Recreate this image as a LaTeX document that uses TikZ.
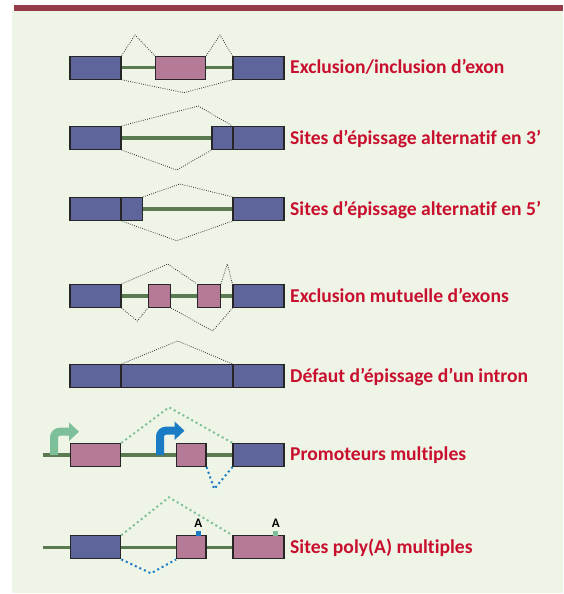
\documentclass[tikz,border=0pt]{standalone}
\usepackage{fontspec}
\setmainfont[Ligatures=NoCommon]{Carlito}
\usetikzlibrary{arrows.meta}
\definecolor{exonblue}{HTML}{5E659B}
\definecolor{exonpink}{HTML}{B57A96}
\definecolor{introngreen}{HTML}{5A7A50}
\definecolor{panelbg}{HTML}{EEF4E6}
\definecolor{topbar}{HTML}{943A48}
\definecolor{titlered}{HTML}{C8102E}
\definecolor{lightgreen}{HTML}{7DBF98}
\definecolor{promoblue}{HTML}{1A7CC4}
\begin{document}
\begin{tikzpicture} [x=1pt, y=-1pt,
  exon/.style={draw=black!85, line width=1.2pt, minimum height=23pt, inner sep=0pt},
  blue/.style={exon, fill=exonblue},
  pink/.style={exon, fill=exonpink},
  intron/.style={draw=introngreen, line width=3.2pt},
  splice/.style={draw=black!80, line width=0.8pt, dash pattern=on 0.8pt off 1.4pt},
  gsplice/.style={draw=lightgreen, line width=2pt, dash pattern=on 2pt off 3pt},
  bsplice/.style={draw=promoblue, line width=2pt, dash pattern=on 2pt off 3pt},
  title/.style={anchor=base west, inner sep=0pt, text=titlered, font=\bfseries\fontsize{19.6}{19.6}\selectfont},
  promoter/.style={line width=8pt, rounded corners=6pt, -{Triangle[width=18pt,length=10pt]}},
  polya/.style={font=\bfseries\fontsize{13}{13}\selectfont, inner sep=0pt}]
\useasboundingbox (0,0) rectangle (563,594);
\fill[panelbg] (12,11) rectangle (563,593);
\fill[topbar] (14,5) rectangle (563,11);

% exon/inclusion
\node[blue, minimum width=51pt] (a1) at (95.5,67.7) {};
\node[pink, minimum width=50.4pt] (a2) at (180.5,67.7) {};
\node[blue, minimum width=51pt] (a3) at (258.5,67.7) {};
\draw[intron] (a1.east) -- (a2.west);
\draw[intron] (a2.east) -- (a3.west);
\coordinate (a4) at (135,35);
\coordinate (a5) at (220,35);
\coordinate (a6) at (184,92.7);
\draw[splice] (a1.north east) -- (a4) -- (a2.north west);
\draw[splice] (a2.north east) -- (a5) -- (a3.north west);
\draw[splice] (a1.south east) -- (a6) -- (a3.south west);
\node[title] (ta) at (290,73.7) {Exclusion/inclusion d’exon};

% 3' site
\node[blue, minimum width=51pt] (b1) at (95.5,138) {};
\node[blue, minimum width=21.3pt] (b2) at (222.6,138) {};
\node[blue, minimum width=51pt] (b3) at (258.5,138) {};
\draw[intron] (b1.east) -- (b2.west);
\coordinate (b4) at (198.3,106);
\coordinate (b5) at (176.7,170);
\draw[splice] (b1.north east) -- (b4) -- (b3.north west);
\draw[splice] (b1.south east) -- (b5) -- (b2.south west);
\node[title] (tb) at (290,144) {Sites d’épissage alternatif en 3’};

% 5' site
\node[blue, minimum width=51pt] (c1) at (95.5,209) {};
\node[blue, minimum width=21.3pt] (c2) at (131.6,209) {};
\node[blue, minimum width=51pt] (c3) at (258.5,209) {};
\draw[intron] (c2.east) -- (c3.west);
\coordinate (c4) at (180,184);
\coordinate (c5) at (176.7,240.7);
\draw[splice] (c2.north east) -- (c4) -- (c3.north west);
\draw[splice] (c1.south east) -- (c5) -- (c3.south west);
\node[title] (tc) at (290,215) {Sites d’épissage alternatif en 5’};

% mutually exclusive
\node[blue, minimum width=51pt] (d1) at (95.5,296) {};
\node[pink, minimum width=22.4pt] (d2) at (159.5,296) {};
\node[pink, minimum width=22.6pt] (d3) at (209,296) {};
\node[blue, minimum width=51pt] (d4) at (258.5,296) {};
\draw[intron] (d1.east) -- (d2.west);
\draw[intron] (d2.east) -- (d3.west);
\draw[intron] (d3.east) -- (d4.west);
\coordinate (d5) at (167.7,264);
\coordinate (d6) at (227.3,264);
\coordinate (d7) at (137.3,321);
\coordinate (d8) at (212.7,331);
\draw[splice] (d1.north east) -- (d5) -- (d3.north west);
\draw[splice] (d3.north east) -- (d6) -- (d4.north west);
\draw[splice] (d1.south east) -- (d7) -- (d2.south west);
\draw[splice] (d2.south east) -- (d8) -- (d4.south west);
\node[title] (td) at (290,302.3) {Exclusion mutuelle d’exons};

% retained intron
\node[blue, minimum width=51pt] (e1) at (95.5,376) {};
\node[blue, minimum width=112pt] (e2) at (177,376) {};
\node[blue, minimum width=51pt] (e3) at (258.5,376) {};
\coordinate (e4) at (177.7,341);
\draw[splice] (e1.north east) -- (e4) -- (e3.north west);
\node[title] (te) at (290,382.3) {Défaut d’épissage d’un intron};

% alternative promoters
\coordinate (f0) at (42.7,455);
\node[pink, minimum width=50pt] (f1) at (95.7,455) {};
\node[pink, minimum width=29.3pt] (f2) at (191.3,455) {};
\node[blue, minimum width=51pt] (f3) at (258.5,455) {};
\draw[intron] (f0) -- (f1.west);
\draw[intron] (f1.east) -- (f2.west);
\draw[intron] (f2.east) -- (f3.west);
\draw[promoter, lightgreen] (54,455) -- (54,431.7) -- (79,431.7);
\draw[promoter, promoblue] (160,455) -- (160,430.7) -- (184.5,430.7);
\coordinate (f4) at (169,407.3);
\coordinate (f5) at (214.3,489);
\draw[gsplice] (f1.north east) -- (f4) -- (f3.north west);
\draw[bsplice] (f2.south east) -- (f5) -- (f3.south west);
\node[title] (tf) at (290,460.7) {Promoteurs multiples};

% alternative poly(A)
\coordinate (g0) at (42.7,547.3);
\node[blue, minimum width=50pt] (g1) at (95.7,547.3) {};
\node[pink, minimum width=29.3pt] (g2) at (191.3,547.3) {};
\node[pink, minimum width=51pt] (g3) at (258.5,547.3) {};
\draw[intron] (g0) -- (g1.west);
\draw[intron] (g1.east) -- (g2.west);
\draw[intron] (g2.east) -- (g3.west);
\coordinate (g4) at (169,497.3);
\coordinate (g5) at (151,573.3);
\draw[gsplice] (g1.north east) -- (g4) -- (g3.north west);
\draw[bsplice] (g1.south east) -- (g5) -- (g2.south west);
\fill[promoblue] (196,531) rectangle (200.6,535.7);
\fill[lightgreen] (273.4,531) rectangle (278,535.7);
\node[polya] (g6) at (198.3,523.5) {A};
\node[polya] (g7) at (275.7,523.5) {A};
\node[title] (tg) at (290,553.3) {Sites poly(A) multiples};
\end{tikzpicture}
\end{document}
